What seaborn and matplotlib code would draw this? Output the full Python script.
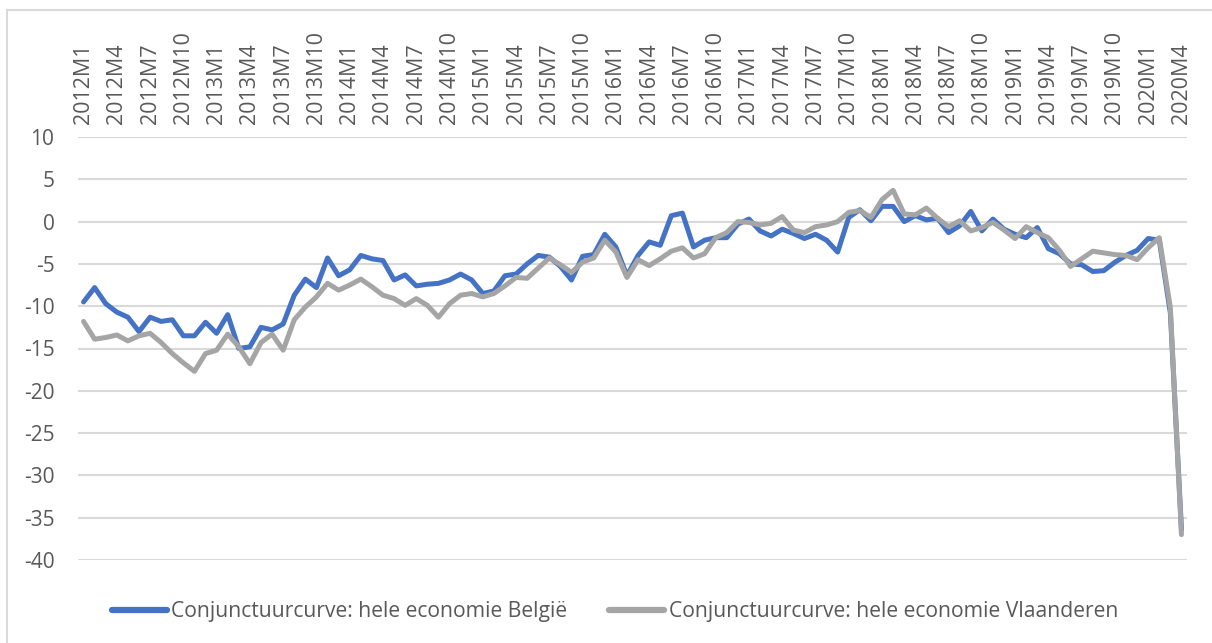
import matplotlib
matplotlib.use("Agg")
import matplotlib.pyplot as plt
from matplotlib.lines import Line2D
import numpy as np
import pandas as pd
import seaborn as sns

# Category labels: 2012M1 .. 2020M4
months = [f"{y}M{m}" for y in range(2012, 2021) for m in range(1, 13)][:100]

belgie = [
    -9.5, -7.8, -9.7, -10.7, -11.3, -13.0, -11.3, -11.8, -11.6, -13.5,
    -13.5, -11.9, -13.2, -11.0, -15.0, -14.8, -12.5, -12.8, -12.1, -8.7,
    -6.8, -7.8, -4.3, -6.4, -5.7, -4.0, -4.4, -4.6, -6.9, -6.3,
    -7.6, -7.4, -7.3, -6.9, -6.2, -6.9, -8.5, -8.2, -6.4, -6.2,
    -5.0, -4.0, -4.2, -5.3, -6.9, -4.1, -3.9, -1.5, -3.0, -6.4,
    -4.0, -2.4, -2.8, 0.7, 1.0, -3.0, -2.2, -1.9, -1.9, -0.3,
    0.3, -1.1, -1.7, -0.9, -1.4, -2.0, -1.5, -2.2, -3.6, 0.5,
    1.4, 0.1, 1.8, 1.8, 0.0, 0.7, 0.2, 0.4, -1.3, -0.5,
    1.2, -1.1, 0.3, -0.9, -1.5, -1.9, -0.7, -3.2, -3.8, -5.0,
    -5.1, -5.9, -5.8, -4.8, -4.0, -3.4, -2.0, -2.2, -10.8, -36.4,
]

vlaanderen = [
    -11.8, -13.9, -13.7, -13.4, -14.1, -13.5, -13.2, -14.3, -15.6, -16.7,
    -17.7, -15.6, -15.2, -13.3, -14.8, -16.8, -14.3, -13.3, -15.2, -11.6,
    -10.1, -8.9, -7.3, -8.1, -7.5, -6.8, -7.7, -8.7, -9.1, -9.9,
    -9.1, -9.9, -11.3, -9.7, -8.7, -8.5, -8.9, -8.5, -7.6, -6.6,
    -6.7, -5.5, -4.3, -5.1, -6.0, -4.8, -4.3, -2.2, -3.6, -6.6,
    -4.5, -5.2, -4.4, -3.5, -3.1, -4.3, -3.8, -1.9, -1.3, 0.0,
    -0.1, -0.4, -0.2, 0.6, -1.0, -1.3, -0.6, -0.4, 0.0, 1.1,
    1.3, 0.5, 2.6, 3.7, 0.9, 0.8, 1.6, 0.4, -0.6, 0.1,
    -1.1, -0.7, -0.1, -1.0, -2.0, -0.6, -1.3, -1.9, -3.4, -5.3,
    -4.4, -3.5, -3.7, -3.9, -4.0, -4.5, -3.1, -1.9, -10.2, -37.0,
]

series_names = [
    "Conjunctuurcurve: hele economie België",
    "Conjunctuurcurve: hele economie Vlaanderen",
]
colors = ["#4472C4", "#A5A5A5"]

df = pd.DataFrame({
    "idx": list(range(len(months))) * 2,
    "value": belgie + vlaanderen,
    "series": [series_names[0]] * len(belgie) + [series_names[1]] * len(vlaanderen),
})

sns.set_theme(style="white")
plt.rcParams["font.family"] = ["Open Sans", "DejaVu Sans"]
plt.rcParams["axes.unicode_minus"] = False
text_color = "#595959"
grid_color = "#D9D9D9"

fig = plt.figure(figsize=(12.12, 6.43), dpi=100)
W, H = 1212, 643
ax = fig.add_axes([78 / W, (H - 560) / H, (1187 - 78) / W, (560 - 137) / H])

sns.lineplot(
    data=df, x="idx", y="value", hue="series", hue_order=series_names,
    palette=colors, linewidth=3.6, ax=ax, legend=False,
)
for ln in ax.get_lines():
    ln.set_solid_capstyle("round")
    ln.set_solid_joinstyle("round")

ax.set_xlim(-0.5, len(months) - 0.5)
ax.set_ylim(-40, 10)
ax.set_yticks(np.arange(-40, 11, 5))
ax.yaxis.grid(True, color=grid_color, linewidth=1.5)
ax.set_axisbelow(True)
for s in ax.spines.values():
    s.set_visible(False)

ax.set_xticks(range(0, len(months), 3))
ax.set_xticklabels(months[::3], rotation=90, color=text_color, fontsize=15.5)
ax.xaxis.tick_top()
ax.tick_params(axis="x", length=0, pad=9, top=True, bottom=False)
ax.tick_params(axis="y", length=0, pad=17, labelsize=15, labelcolor=text_color)
ax.set_xlabel("")
ax.set_ylabel("")

handles = [Line2D([0], [0], color=c, linewidth=4.5, solid_capstyle="round") for c in colors]
fig.legend(
    handles, series_names, loc="center", bbox_to_anchor=(615 / W, 1 - 612 / H),
    ncol=2, frameon=False, fontsize=15.2, handlelength=2.6, handletextpad=0.2,
    columnspacing=2.0, labelcolor=text_color,
)

# chart border (left and top visible)
fig.add_artist(Line2D([7 / W, 7 / W], [0, 1 - 10 / H], color=grid_color, linewidth=1.5))
fig.add_artist(Line2D([7 / W, 1], [1 - 10 / H, 1 - 10 / H], color=grid_color, linewidth=1.5))

fig.savefig("out.png", dpi=100, facecolor="white")
